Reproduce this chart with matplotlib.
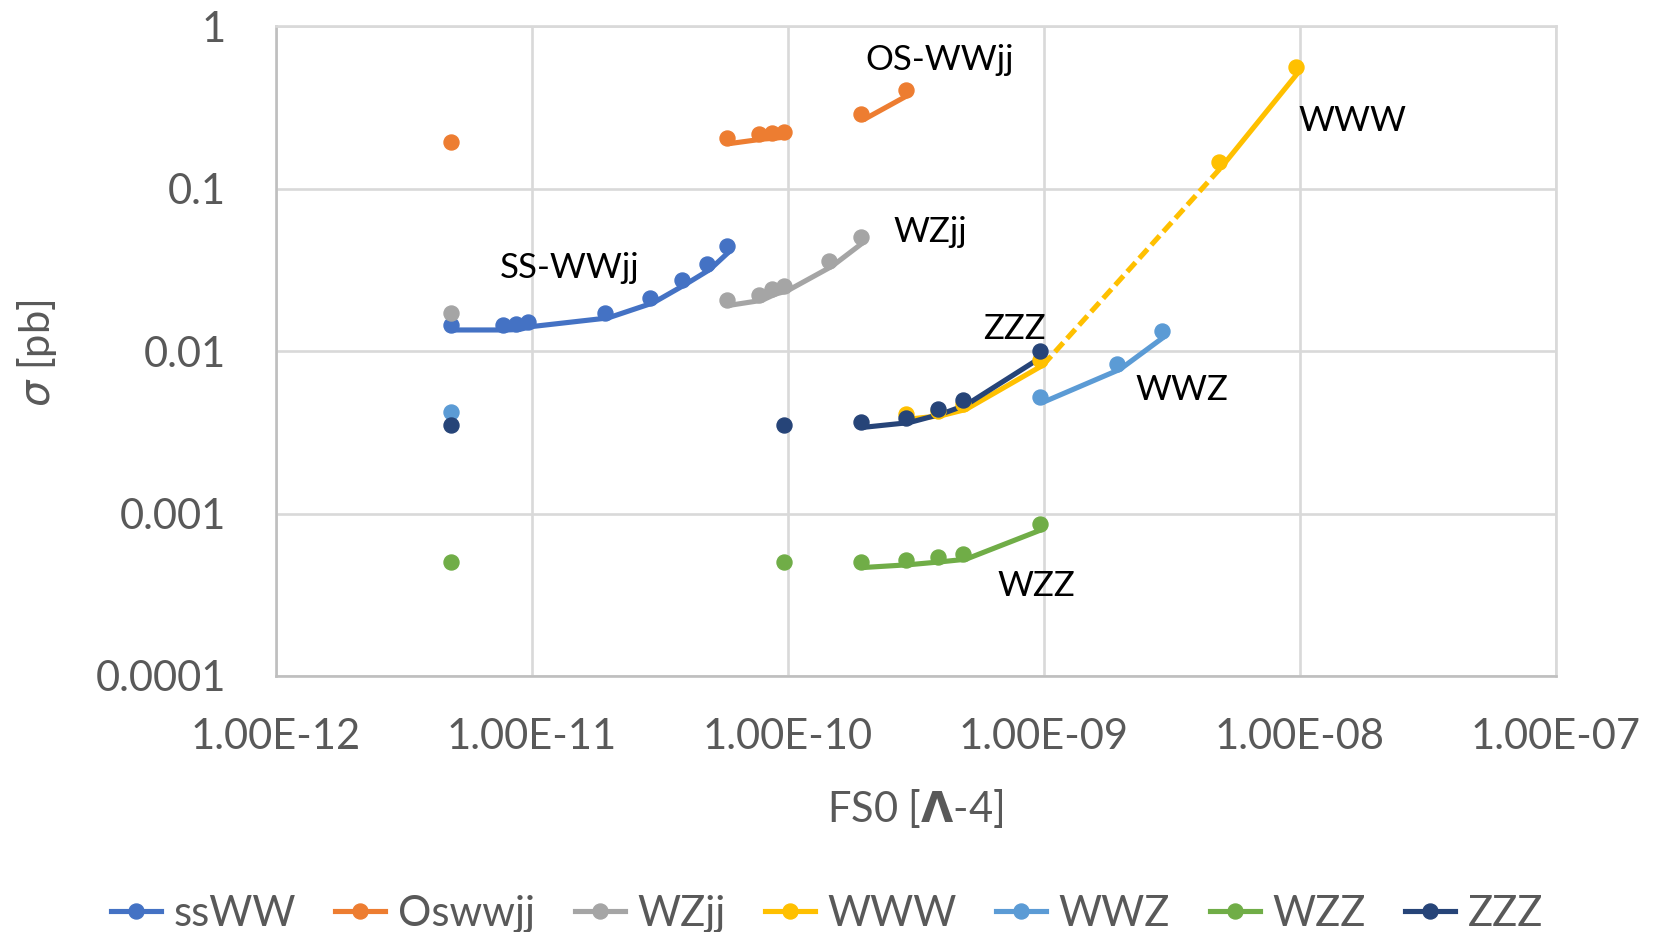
import numpy as np
import matplotlib
matplotlib.use("Agg")
import matplotlib.pyplot as plt
from matplotlib import transforms
from matplotlib.lines import Line2D

plt.rcParams['font.family'] = ['Lato', 'DejaVu Sans']

nan = np.nan

# Cross sections vs FS0 coefficient (NaN = gap in the Excel series)
ssww_x = [5e-12, 8e-12, 9e-12, 1e-11, 2e-11, 3e-11, 4e-11, 5e-11, 6e-11]
ssww_y = [0.0145, 0.0145, 0.0146, 0.0152, 0.0172, 0.0213, 0.0276, 0.0342, 0.0446]

osww_x = [5e-12, nan, 6e-11, 8e-11, 9e-11, 1e-10, nan, 2e-10, 3e-10]
osww_y = [0.195, nan, 0.204, 0.217, 0.220, 0.224, nan, 0.287, 0.408]

wzjj_x = [5e-12, nan, 6e-11, 8e-11, 9e-11, 1e-10, 1.5e-10, 2e-10]
wzjj_y = [0.0172, nan, 0.0206, 0.0221, 0.0241, 0.0252, 0.0358, 0.0506]

www_x = [3e-10, 4e-10, 5e-10, 1e-9, 5e-9, 1e-8]
www_y = [0.0041, 0.0043, 0.0047, 0.0088, 0.147, 0.566]

wwz_x = [5e-12, nan, 1e-9, 2e-9, 3e-9]
wwz_y = [0.0042, nan, 0.0052, 0.0083, 0.0133]

wzz_x = [5e-12, nan, 1e-10, nan, 2e-10, 3e-10, 4e-10, 5e-10, 1e-9]
wzz_y = [0.0005, nan, 0.0005, nan, 0.0005, 0.00052, 0.000542, 0.000562, 0.000861]

zzz_x = [5e-12, nan, 1e-10, nan, 2e-10, 3e-10, 4e-10, 5e-10, 1e-9]
zzz_y = [0.0035, nan, 0.0035, nan, 0.00365, 0.0039, 0.0044, 0.005, 0.01]

names = ['ssWW', 'Oswwjj', 'WZjj', 'WWW', 'WWZ', 'WZZ', 'ZZZ']
colors = ['#4472C4', '#ED7D31', '#A5A5A5', '#FFC000', '#5B9BD5', '#70AD47', '#264478']
series = [(ssww_x, ssww_y), (osww_x, osww_y), (wzjj_x, wzjj_y), (www_x, www_y),
          (wwz_x, wwz_y), (wzz_x, wzz_y), (zzz_x, zzz_y)]

x_ticks = [1e-12, 1e-11, 1e-10, 1e-9, 1e-8, 1e-7]
x_ticklabels = ['1.00E-12', '1.00E-11', '1.00E-10', '1.00E-09', '1.00E-08', '1.00E-07']
y_ticks = [1e-4, 1e-3, 1e-2, 1e-1, 1]
y_ticklabels = ['0.0001', '0.001', '0.01', '0.1', '1']

fig = plt.figure(figsize=(16.54, 9.32), dpi=100)
ax = fig.add_axes([0.1669, 0.2747, 0.7738, 0.697])
ax.set_xscale('log')
ax.set_yscale('log')

lw = 3.7
ms = 10.8
# in the original the markers sit a little left of the line, the line a little low
line_tr = transforms.offset_copy(ax.transData, fig=fig, x=-1, y=-5, units='dots')
mark_tr = transforms.offset_copy(ax.transData, fig=fig, x=-4, y=0, units='dots')

for (xs, ys), c, name in zip(series, colors, names):
    xs = np.array(xs, dtype=float)
    ys = np.array(ys, dtype=float)
    if name == 'WWW':
        ax.plot(xs[:4], ys[:4], color=c, lw=lw, transform=line_tr, solid_capstyle='round')
        ax.plot(xs[3:5], ys[3:5], color=c, lw=lw, transform=line_tr,
                linestyle=(0, (2.4, 1.1)), dash_capstyle='butt')
        ax.plot(xs[4:], ys[4:], color=c, lw=lw, transform=line_tr, solid_capstyle='round')
    else:
        ax.plot(xs, ys, color=c, lw=lw, transform=line_tr, solid_capstyle='round')
    ax.plot(xs, ys, 'o', color=c, ms=ms, mec=c, zorder=3, transform=mark_tr)

ax.set_xlim(1e-12, 1e-7)
ax.set_ylim(1e-4, 1)
ax.set_xticks(x_ticks)
ax.set_xticklabels(x_ticklabels)
ax.set_yticks(y_ticks)
ax.set_yticklabels(y_ticklabels)
ax.minorticks_off()
ax.tick_params(axis='both', length=0, labelsize=30, labelcolor='#595959')
ax.tick_params(axis='y', pad=36)
ax.tick_params(axis='x', pad=30)

ax.grid(True, color='#D9D9D9', lw=1.9)
ax.set_axisbelow(True)
for s in ['top', 'right']:
    ax.spines[s].set_color('#D9D9D9')
    ax.spines[s].set_linewidth(1.9)
for s in ['left', 'bottom']:
    ax.spines[s].set_color('#BFBFBF')
    ax.spines[s].set_linewidth(1.9)

# series labels
lab = dict(fontsize=25, color='black', ha='center', va='center')
ax.text(3.9e-10, 0.62, 'OS-WWjj', **lab)
ax.text(1.6e-8, 0.263, 'WWW', **lab)
ax.text(3.6e-10, 0.054, 'WZjj', **lab)
ax.text(1.4e-11, 0.0326, 'SS-WWjj', **lab)
ax.text(7.7e-10, 0.0136, 'ZZZ', **lab)
ax.text(3.45e-9, 0.0058, 'WWZ', **lab)
ax.text(9.3e-10, 0.00036, 'WZZ', **lab)

fig.text(37 / 1654, 1 - 353 / 932, r'$\sigma$ [pb]', rotation=90,
         ha='center', va='center', fontsize=30, color='#595959')
fig.text(915 / 1654, 1 - 809 / 932, r'FS0 [$\mathbf{\Lambda}$-4]',
         ha='center', va='center', fontsize=30, color='#595959')

handles = [Line2D([], [], color=c, lw=lw, marker='o', ms=ms) for c in colors]
fig.legend(handles, names, loc='center', bbox_to_anchor=(0.5, 1 - 914 / 932),
           ncol=7, frameon=False, fontsize=30, handlelength=1.2,
           handletextpad=0.3, columnspacing=0.95, labelcolor='#595959')

fig.savefig('out.png', dpi=100)
